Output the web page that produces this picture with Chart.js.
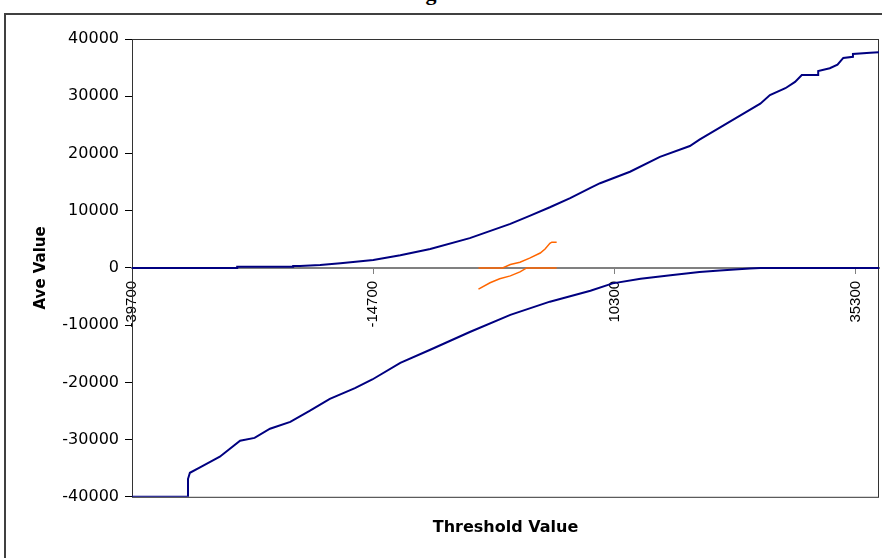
<!DOCTYPE html>
<html>
<head>
<meta charset="utf-8">
<script src="https://cdn.jsdelivr.net/npm/chart.js@4/dist/chart.umd.min.js"></script>
<style>
  html, body { margin: 0; padding: 0; background: #fff; overflow: hidden; }
  #wrap { position: relative; width: 882px; height: 558px; overflow: hidden; }
  #frame { position: absolute; left: 4px; top: 13px; width: 920px; height: 600px;
           border: 2px solid #404040; box-sizing: border-box; }
  #title { position: absolute; top: -18px; left: 300px; font: bold 22px "Liberation Serif", serif;
           line-height: 22px; white-space: nowrap; color: #000; }
  canvas { position: absolute; left: 0; top: 0; }
</style>
</head>
<body>
<div id="wrap">
  <div id="frame"></div>
  <div id="title">Average Value vs Threshold Value</div>
  <canvas id="c" width="882" height="558"></canvas>
</div>
<script>
// ---- data ----
const xTickValues = [-39700, -14700, 10300, 35300];
const xTickLabels = ["-39700", "-14700", "10300", "35300"];
const yTickLabels = ["-40000", "-30000", "-20000", "-10000", "0", "10000", "20000", "30000", "40000"];

const upperBlueX = [-39700,-28800,-28800,-23000,-23000,-22300,-20200,-18100,-14700,-11900,-8800,-4700,-500,1500,3600,5700,7800,8800,11900,15000,18100,19100,21200,23300,25400,26400,28000,29000,29700,31400,31400,32600,33400,34000,35000,35000,36800,37700];
const upperBlueY = [0,0,200,200,350,350,500,800,1400,2200,3300,5200,7700,9100,10600,12200,14000,14800,16800,19400,21300,22400,24500,26600,28700,30200,31400,32500,33700,33700,34400,34900,35500,36700,36900,37400,37600,37700];

const lowerBlueX = [-39700,-33900,-33900,-33700,-32700,-31600,-30600,-28500,-27000,-25400,-23300,-21300,-19200,-16600,-14800,-11900,-8800,-4700,-500,3600,7800,10100,13000,16100,19100,21200,24300,25400,37700];
const lowerBlueY = [-40000,-40000,-36900,-35800,-34900,-33900,-33000,-30200,-29700,-28100,-26900,-25000,-22900,-21000,-19500,-16600,-14300,-11200,-8200,-5900,-4000,-2700,-1900,-1300,-700,-450,-100,0,0];

const upperOrangeX = [-3800,-1300,-500,500,1500,2600,3100,3600,3800,4300];
const upperOrangeY = [0,0,600,1000,1700,2600,3300,4300,4500,4500];

const lowerOrangeX = [-3800,-2600,-1600,-500,500,1200,4300];
const lowerOrangeY = [-3700,-2600,-1900,-1400,-700,0,0];

const xMin = -39700, xMax = 37700;
const yMin = -40000, yMax = 40000, yStep = 10000;

// ---- helpers ----
const pts = (xs, ys) => xs.map((x, i) => ({ x: x, y: ys[i] }));
const NAVY = '#000080', ORANGE = '#FF6600';

const plotBorder = {
  id: 'plotBorder',
  beforeDatasetsDraw(chart) {
    const a = chart.chartArea, ctx = chart.ctx;
    ctx.save();
    ctx.strokeStyle = '#333';
    ctx.lineWidth = 1;
    ctx.strokeRect(a.left + 0.5, a.top + 0.5, a.right - a.left - 1, a.bottom - a.top);
    ctx.restore();
  }
};

new Chart(document.getElementById('c'), {
  type: 'line',
  data: {
    datasets: [
      { data: pts(lowerOrangeX, lowerOrangeY), borderColor: ORANGE, borderWidth: 1.5 },
      { data: pts(upperOrangeX, upperOrangeY), borderColor: ORANGE, borderWidth: 1.5 },
      { data: pts(lowerBlueX, lowerBlueY), borderColor: NAVY, borderWidth: 2 },
      { data: pts(upperBlueX, upperBlueY), borderColor: NAVY, borderWidth: 2 }
    ]
  },
  options: {
    responsive: false,
    animation: false,
    events: [],
    layout: { padding: { left: 32, right: 3, top: 39, bottom: 0 } },
    elements: { point: { radius: 0 }, line: { tension: 0 } },
    plugins: {
      legend: { display: false },
      tooltip: { enabled: false },
      title: {
        display: true, position: 'bottom', fullSize: false,
        text: 'Threshold Value', color: '#000',
        font: { family: 'DejaVu Sans', size: 16, weight: 'bold', lineHeight: 1.2 },
        padding: { top: 21, bottom: 21 }
      }
    },
    scales: {
      x: {
        type: 'linear', position: { y: 0 }, min: xMin, max: xMax,
        afterBuildTicks: s => { s.ticks = xTickValues.map(v => ({ value: v })); },
        ticks: {
          autoSkip: false, minRotation: 90, maxRotation: 90, padding: 8, color: '#000',
          font: { family: 'Liberation Sans', size: 15 },
          callback: (v, i) => xTickLabels[i]
        },
        grid: { drawOnChartArea: false, tickLength: 5, color: '#808080' },
        border: { color: '#808080', width: 2 }
      },
      y: {
        min: yMin, max: yMax,
        ticks: {
          stepSize: yStep, padding: 6, color: '#000',
          font: { family: 'DejaVu Sans', size: 16 },
          callback: (v, i) => yTickLabels[i]
        },
        grid: { drawOnChartArea: false, tickLength: 7, color: '#000' },
        border: { color: '#000', width: 1 },
        title: {
          display: true, text: 'Ave Value', color: '#000',
          font: { family: 'DejaVu Sans', size: 15, weight: 'bold', lineHeight: 1.2 },
          padding: { top: 0, bottom: 0 }
        },
        afterFit: s => { s.width = 100; }
      }
    }
  },
  plugins: [plotBorder]
});

// place the (mostly clipped) chart title so its "g" sits where the reference shows it
(function () {
  const t = document.getElementById('title');
  const m = document.createElement('canvas').getContext('2d');
  m.font = 'bold 22px "Liberation Serif"';
  const pre = m.measureText('Avera').width;
  const gw = m.measureText('g').width;
  t.style.left = (431 - pre - gw / 2) + 'px';
})();
</script>
</body>
</html>
